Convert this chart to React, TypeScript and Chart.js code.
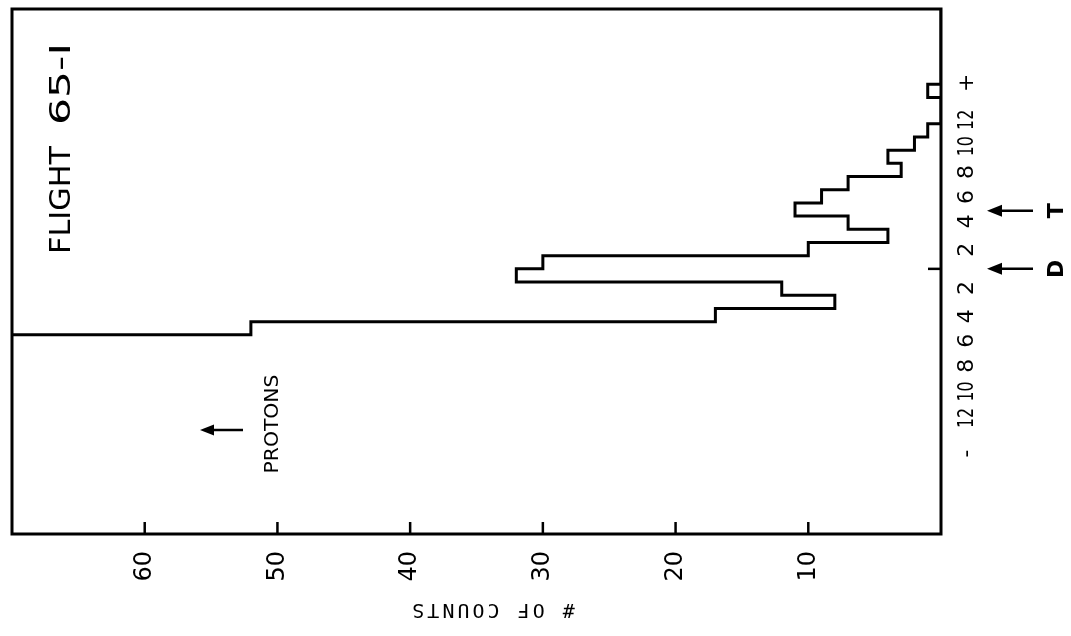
import React, { useEffect, useRef } from "react";
import { Chart, registerables } from "chart.js";

Chart.register(...registerables);

// ---- data ----
// lower edge of each 1-unit bin on the mass-channel axis (0 = deuterium mark)
const massBinStarts = [
  -20, -19, -18, -17, -16, -15, -14, -13, -12, -11, -10, -9, -8, -7, -6,
  -5, -4, -3, -2, -1, 0, 1, 2, 3, 4, 5, 6, 7, 8, 9, 10, 11, 12, 13, 14, 15, 16, 17, 18, 19,
];
const binWidth = 1;
// number of counts in each bin (proton bins run off the top of the scale)
const binCounts = [
  100, 100, 100, 100, 100, 100, 100, 100, 100, 100, 100, 100, 100, 100, 100,
  52, 17, 8, 12, 32, 30, 10, 4, 7, 11, 9, 7, 3, 4, 2, 1, 0, 0, 1, 0, 0, 0, 0, 0, 0,
];

const countTicks = [10, 20, 30, 40, 50, 60];
const countTickLabels = ["10", "20", "30", "40", "50", "60"];

const massTickPositions = [-14.0, -11.3, -9.3, -7.35, -5.45, -3.6, -1.45, 1.45, 3.6, 5.45, 7.35, 9.3, 11.3, 14.1];
const massTickLabels = ["-", "12", "10", "8", "6", "4", "2", "2", "4", "6", "8", "10", "12", "+"];

const markerNames = ["D", "T"];
const markerPositions = [0, 4.4];

const countMin = 0;
const countMax = 70;
const massMin = -20.1;
const massMax = 19.7;

type TextOpts = { len?: number; sx?: number; spacing?: string; align?: CanvasTextAlign };

function drawText(
  ctx: CanvasRenderingContext2D,
  text: string,
  x: number,
  y: number,
  angle: number,
  font: string,
  opts: TextOpts = {}
) {
  ctx.save();
  ctx.font = font;
  if (opts.spacing) (ctx as any).letterSpacing = opts.spacing;
  ctx.translate(x, y);
  ctx.rotate(angle);
  let sx = opts.sx ?? 1;
  if (opts.len) sx = opts.len / ctx.measureText(text).width;
  ctx.scale(sx, 1);
  ctx.textAlign = opts.align ?? "center";
  ctx.textBaseline = "middle";
  ctx.fillText(text, 0, 0);
  ctx.restore();
}

function arrowLeft(ctx: CanvasRenderingContext2D, xTail: number, xHead: number, y: number, lw: number, headLen: number, headHalf: number) {
  ctx.save();
  ctx.lineWidth = lw;
  ctx.beginPath();
  ctx.moveTo(xTail, y);
  ctx.lineTo(xHead + headLen - 2, y);
  ctx.stroke();
  ctx.beginPath();
  ctx.moveTo(xHead, y);
  ctx.lineTo(xHead + headLen, y - headHalf);
  ctx.lineTo(xHead + headLen, y + headHalf);
  ctx.closePath();
  ctx.fill();
  ctx.restore();
}

const annotations = {
  id: "annotations",
  afterDraw(chart: any) {
    const { ctx, chartArea: a, scales } = chart;
    const xs = scales.x;
    const ys = scales.y;
    const up = -Math.PI / 2;
    ctx.save();
    ctx.strokeStyle = "#000";
    ctx.fillStyle = "#000";

    // frame
    ctx.lineWidth = 3;
    ctx.strokeRect(a.left, a.top, a.right - a.left, a.bottom - a.top);

    // inward count ticks on the bottom edge
    ctx.lineWidth = 2.5;
    countTicks.forEach((v) => {
      const x = xs.getPixelForValue(v);
      ctx.beginPath();
      ctx.moveTo(x, a.bottom);
      ctx.lineTo(x, a.bottom - 12);
      ctx.stroke();
    });
    // zero mark on the right edge
    const y0 = ys.getPixelForValue(0);
    ctx.beginPath();
    ctx.moveTo(a.right, y0);
    ctx.lineTo(a.right - 13, y0);
    ctx.stroke();

    // count tick labels (rotated)
    countTicks.forEach((v, i) => {
      const x = xs.getPixelForValue(v);
      drawText(ctx, countTickLabels[i], x, a.bottom + 17, up, '24px "DejaVu Sans"', { align: "right" });
    });

    // mass channel labels on the right
    massTickPositions.forEach((p, i) => {
      const y = ys.getPixelForValue(p);
      const lab = massTickLabels[i];
      drawText(ctx, lab, a.right + 26, y, up, '22px "DejaVu Sans"', { sx: lab.length > 1 ? 0.72 : 1 });
    });

    // D / T markers
    markerPositions.forEach((p, i) => {
      const y = ys.getPixelForValue(p);
      arrowLeft(ctx, a.right + 92, a.right + 46, y, 2.5, 15, 6);
      drawText(ctx, markerNames[i], a.right + 116, y, up, 'bold 22px "DejaVu Sans"');
    });

    // title
    drawText(ctx, "FLIGHT", 62, 200, up, '29px "DejaVu Sans"', { len: 108 });
    drawText(ctx, "65-I", 62, 84, up, '29px "DejaVu Sans"', { len: 82 });

    // protons note
    drawText(ctx, "PROTONS", 273, 424, up, '20px "DejaVu Sans"', { len: 99 });
    arrowLeft(ctx, 243, 200, 430, 2.5, 14, 5.5);

    // axis title (upside down in the original)
    drawText(ctx, "# OF COUNTS", 492, 609, Math.PI, '20px "DejaVu Sans Mono"', { spacing: "3px" });

    ctx.restore();
  },
};

export default function App() {
  const canvasRef = useRef<HTMLCanvasElement | null>(null);

  useEffect(() => {
    if (!canvasRef.current) return;
    const points = massBinStarts.map((m, i) => ({ x: binCounts[i], y: m }));
    points.push({
      x: binCounts[binCounts.length - 1],
      y: massBinStarts[massBinStarts.length - 1] + binWidth,
    });

    const chart = new Chart(canvasRef.current, {
      type: "line",
      data: {
        datasets: [
          {
            label: "counts",
            data: points,
            borderColor: "#000",
            borderWidth: 3,
            pointRadius: 0,
            stepped: "after",
            fill: false,
            tension: 0,
          },
        ],
      },
      options: {
        indexAxis: "y",
        animation: false,
        responsive: true,
        maintainAspectRatio: false,
        layout: { padding: { left: 12, top: 9, right: 130, bottom: 102 } },
        plugins: { legend: { display: false }, tooltip: { enabled: false } },
        scales: {
          x: { type: "linear", reverse: true, min: countMin, max: countMax, display: false },
          y: { type: "linear", min: massMin, max: massMax, display: false },
        },
      },
      plugins: [annotations],
    });
    return () => chart.destroy();
  }, []);

  return (
    <div style={{ position: "fixed", left: 0, top: 0, width: 1071, height: 636, background: "#fff" }}>
      <canvas ref={canvasRef} />
    </div>
  );
}
